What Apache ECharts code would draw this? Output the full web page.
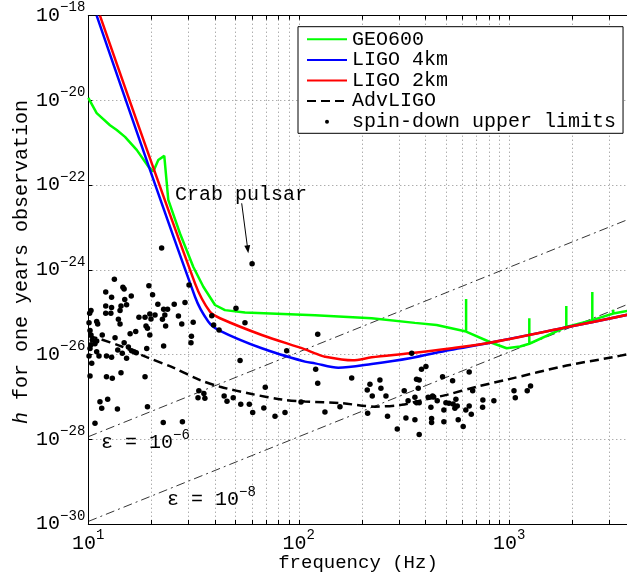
<!DOCTYPE html>
<html>
<head>
<meta charset="utf-8">
<script src="https://cdn.jsdelivr.net/npm/echarts@6/dist/echarts.min.js"></script>
<style>
html, body { margin: 0; padding: 0; background: #fff; }
#chart { width: 627px; height: 576px; }
</style>
</head>
<body>
<div id="chart"></div>
<script>
const FONT = '"Liberation Mono", "DejaVu Sans Mono", monospace';

// Axis ticks (log scale): labelled decades and the 2..9 minor positions
const xMajorTicks = [10, 100, 1000];
const xAllTicks = [10, 20, 30, 40, 50, 60, 70, 80, 90,
                   100, 200, 300, 400, 500, 600, 700, 800, 900,
                   1000, 2000, 3000, 4000];
const yMajorTicks = [1e-30, 1e-28, 1e-26, 1e-24, 1e-22, 1e-20, 1e-18];

// Detector sensitivity curves: [frequency (Hz), h]
const geo600 = [
  [10, 1.15e-20], [10.96, 5.0e-21], [12.68, 2.6e-21], [13.65, 2.0e-21], [14.94, 1.38e-21],
  [16.98, 6.8e-22], [19.28, 2.75e-22], [20.37, 2.1e-22], [21.5, 3.9e-22], [22.96, 4.9e-22],
  [23.99, 4.5e-23], [27.27, 7.2e-24], [31.55, 1.17e-24], [35.2, 4.0e-25], [40.0, 1.48e-25],
  [44.6, 1.12e-25], [55.5, 9.8e-26], [119.4, 8.5e-26], [222, 7.2e-26], [356, 5.6e-26],
  [451.7, 5.0e-26], [623.6, 3.5e-26], [623.6, 2.04e-25], [623.6, 3.5e-26], [824, 1.9e-26],
  [972, 1.41e-26], [1125, 1.55e-26], [1245, 1.8e-26], [1245, 7.2e-26], [1245, 1.8e-26],
  [1866, 4.5e-26], [1866, 1.41e-25], [1866, 4.5e-26], [2480, 6.5e-26], [2480, 3.0e-25],
  [2480, 6.5e-26], [3119, 9.3e-26], [3119, 1.15e-25], [3119, 9.3e-26], [3650, 1.08e-25]
];
const ligo4km = [
  [10.96, 1e-18], [32.13, 2.32e-25], [37.2, 5.97e-26], [41.6, 3.8e-26], [66.7, 1.41e-26],
  [107, 6.8e-27], [119.4, 6.2e-27], [154, 4.9e-27], [222, 6.0e-27], [337, 8.2e-27],
  [522, 1.28e-26], [808.6, 1.9e-26], [1874, 4.4e-26], [3650, 8.7e-26]
];
const ligo2km = [
  [11.36, 1e-18], [32.13, 4.8e-25], [37.85, 1.02e-25], [42.24, 7.2e-26], [66.7, 2.9e-26],
  [107, 1.33e-26], [119.4, 1.07e-26], [133.1, 8.9e-27], [180, 7.3e-27], [222, 8.6e-27],
  [337, 1.07e-26], [522, 1.39e-26], [808.6, 1.9e-26], [1874, 4.4e-26], [3650, 8.7e-26]
];
const advLigo = [
  [10, 2.75e-26], [11.16, 2.4e-26], [14.42, 1.55e-26], [18.94, 8.7e-27], [25.35, 4.9e-27],
  [33.96, 2.5e-27], [42.3, 1.74e-27], [59.8, 1.17e-27], [82.9, 8.7e-28], [107, 7.8e-28],
  [160, 7.1e-28], [230, 5.9e-28], [308, 6.5e-28], [363, 7.8e-28], [504, 1.12e-27],
  [700, 1.74e-27], [988, 2.6e-27], [1874, 5.5e-27], [3119, 8.7e-27], [3650, 1.02e-26]
];

// Spin-down upper limits of known pulsars: [GW frequency (Hz), h]
const crabPulsar = [60, 1.4e-24];
const spinDownLimits = [
  crabPulsar, [22.3, 3.3e-24], [30.1, 4.4e-25],
  [13.3, 6.0e-25], [14.6, 3.9e-25], [14.8, 3.55e-25], [19.4, 4.2e-25], [12.1, 3.0e-25],
  [12.9, 2.25e-25], [16.0, 2.4e-25], [14.9, 2.0e-25], [20.2, 2.6e-25], [10.3, 1.1e-25],
  [10.15, 9.4e-26], [12.1, 1.4e-25], [12.9, 1.3e-25], [14.3, 1.4e-25], [14.15, 1.1e-25],
  [15.2, 1.5e-25], [12.1, 9.4e-26], [12.8, 9.4e-26], [17.4, 7.6e-26], [18.6, 7.6e-26],
  [19.6, 9.1e-26], [20.75, 8.6e-26], [19.85, 6.9e-26], [21.4, 1.55e-25], [22.8, 1.17e-25],
  [23.8, 1.17e-25], [25.6, 1.55e-25], [28.8, 1.7e-25], [23.1, 8.6e-26], [26.8, 8.1e-26],
  [27.8, 5.3e-26], [22.5, 6.8e-26], [23.3, 4.7e-26], [31.5, 5.8e-26], [10.08, 5.65e-26],
  [10.96, 6.0e-26], [11.08, 5.3e-26], [13.9, 6.8e-26], [14.15, 5.3e-26], [18.8, 4.7e-26],
  [19.1, 4.2e-26], [19.6, 2.9e-26], [10.19, 3.7e-26], [10.3, 2.9e-26], [10.45, 2.2e-26],
  [10.96, 2.1e-26], [11.65, 2.9e-26], [13.4, 2.5e-26], [14.8, 1.9e-26], [15.8, 3.1e-26],
  [16.8, 3.5e-26], [10.3, 1.7e-26], [10.76, 1.8e-26], [10.19, 1.4e-26], [10.96, 1.16e-26],
  [11.24, 9.3e-27], [10.08, 9.3e-27], [10.38, 6.2e-27], [12.2, 9.3e-27], [12.9, 8.6e-27],
  [13.8, 1.28e-26], [14.5, 1.07e-26], [15.2, 8.2e-27], [16.05, 1.23e-26], [15.5, 1.5e-26],
  [16.5, 1.16e-26], [16.9, 1.1e-26], [18.95, 1.4e-26], [22.8, 1.6e-26], [30.9, 2.7e-26],
  [30.75, 1.9e-26], [10.19, 3.1e-27], [12.2, 3.0e-27], [13.0, 2.75e-27], [14.3, 3.7e-27],
  [18.6, 3.0e-27], [11.36, 7.7e-28], [12.36, 8.8e-28], [11.58, 5.4e-28], [13.75, 5.2e-28],
  [19.1, 5.9e-28], [10.76, 2.4e-28], [22.7, 2.5e-28], [28.0, 2.6e-28],
  [50.3, 1.24e-25], [55.5, 5.65e-26], [38.6, 8.3e-26], [39.4, 5.0e-26], [41.8, 3.8e-26],
  [87.6, 1.23e-26], [52.6, 7.2e-27], [33.5, 1.4e-27], [33.2, 9.6e-28], [35.4, 1.2e-27],
  [35.8, 9.3e-28], [44.2, 1.05e-27], [45.6, 7.9e-28], [48.8, 9.6e-28], [53.0, 6.7e-28],
  [58.2, 6.7e-28], [60.4, 4.3e-28], [68.2, 5.5e-28], [69.3, 1.7e-27], [77.1, 3.5e-28],
  [86.0, 4.3e-28], [102.5, 7.6e-28],
  [123, 3.0e-26], [120.3, 4.5e-27], [123, 2.1e-27], [178.4, 2.8e-27], [211.5, 1.46e-27],
  [217.8, 2.0e-27], [242.9, 2.5e-27], [245.6, 1.6e-27], [223.4, 1.05e-27], [259.5, 1.05e-27],
  [133.1, 4.4e-28], [156.9, 5.9e-28], [212.4, 4.1e-28], [264, 3.5e-28], [293.7, 1.75e-28],
  [322.8, 3.2e-28], [316.9, 1.4e-27], [330.6, 8.1e-28], [356.2, 2.9e-28], [373.3, 1.3e-28],
  [343.8, 1.07e-26], [382.8, 4.5e-27], [401.8, 5.2e-27], [362.6, 2.6e-27], [373.3, 2.5e-27],
  [369.4, 1.6e-27], [356.2, 9.8e-28], [362.6, 7.3e-28], [373.3, 7.3e-28], [412, 9.8e-28],
  [432, 1.05e-27], [437.5, 1.0e-27], [454.6, 8.1e-28], [424.3, 5.7e-28], [427.5, 3.1e-28],
  [427.5, 2.5e-28], [482, 3.0e-27], [538, 2.4e-27], [489, 4.9e-28], [489, 2.6e-28],
  [500, 7.3e-28], [517, 7.1e-28], [541, 6.8e-28], [557.7, 8.8e-28], [566, 6.1e-28],
  [551.5, 5.4e-28], [572, 2.9e-28], [604, 2.0e-28], [621.6, 4.9e-28], [645, 6.1e-28],
  [660, 3.9e-28], [645, 3.9e-27], [670, 1.4e-27], [749, 8.5e-28], [747, 5.7e-28],
  [845, 8.1e-28], [1053, 1.4e-27], [1068, 9.6e-28], [1217, 1.4e-27], [1262, 1.8e-27]
];

// Constant-ellipticity reference lines (h grows as f^2)
const ellipticity6 = [[10, 1.15e-28], [4000, 1.84e-23]];
const ellipticity8 = [[10, 1.15e-30], [4000, 1.84e-25]];

const chart = echarts.init(document.getElementById('chart'), null, { renderer: 'canvas' });

const powRich = {
  b: { fontFamily: FONT, fontSize: 20, lineHeight: 30, color: '#000' },
  s: { fontFamily: FONT, fontSize: 14, lineHeight: 14, verticalAlign: 'top', color: '#000' }
};
function powLabel(v) {
  const e = Math.round(Math.log10(v));
  return '{b|10}{s|' + (e < 0 ? '\u2212' + (-e) : String(e)) + '}';
}

const dotted = { color: '#8a8a8a', width: 1, type: [1, 3] };
const noMarker = { opacity: 0 };

chart.setOption({
  animation: false,
  backgroundColor: '#fff',
  grid: {
    left: 88.3, top: 15.7, width: 547.7, height: 508.3,
    containLabel: false, outerBoundsMode: 'none'
  },
  legend: {
    orient: 'vertical',
    left: 298, top: 26.7,
    padding: [2.6, 7, 1.6, 8],
    itemWidth: 40, itemHeight: 4, itemGap: 0.6,
    backgroundColor: '#fff',
    borderColor: '#000', borderWidth: 1, borderRadius: 0,
    textStyle: { fontFamily: FONT, fontSize: 20, lineHeight: 20, color: '#000' },
    data: [
      { name: 'GEO600', itemStyle: noMarker },
      { name: 'LIGO 4km', itemStyle: noMarker },
      { name: 'LIGO 2km', itemStyle: noMarker },
      { name: 'AdvLIGO', itemStyle: noMarker },
      { name: 'spin-down upper limits' }
    ]
  },
  xAxis: [{
    type: 'log', logBase: 10, min: 10, max: 4000, position: 'bottom',
    axisLine: { show: true, lineStyle: { color: '#000', width: 1 } },
    axisTick: { show: true, inside: true, length: 4, customValues: xAllTicks, lineStyle: { color: '#000' } },
    axisLabel: { customValues: xMajorTicks, formatter: powLabel, rich: powRich, margin: 4.5 },
    splitLine: { show: true, lineStyle: dotted },
    minorTick: { show: false }, minorSplitLine: { show: false }
  }, {
    type: 'log', logBase: 10, min: 10, max: 4000, position: 'top',
    axisLine: { show: true, lineStyle: { color: '#000', width: 1 } },
    axisTick: { show: true, inside: true, length: 4, customValues: xAllTicks, lineStyle: { color: '#000' } },
    axisLabel: { show: false },
    splitLine: { show: false }
  }],
  yAxis: {
    type: 'log', logBase: 10, min: 1e-30, max: 1e-18,
    axisLine: { show: true, lineStyle: { color: '#000', width: 1 } },
    axisTick: { show: true, inside: true, length: 4, customValues: yMajorTicks, lineStyle: { color: '#000' } },
    axisLabel: { customValues: yMajorTicks, formatter: powLabel, rich: powRich, margin: 3 },
    splitLine: { show: true, lineStyle: dotted },
    minorTick: { show: false }, minorSplitLine: { show: false }
  },
  series: [
    {
      name: 'epsilon 1e-6', type: 'line', data: ellipticity6, symbol: 'none', silent: true,
      lineStyle: { color: '#000', width: 0.8, type: [9, 4, 2, 4] }, z: 2
    },
    {
      name: 'epsilon 1e-8', type: 'line', data: ellipticity8, symbol: 'none', silent: true,
      lineStyle: { color: '#000', width: 0.8, type: [9, 4, 2, 4] }, z: 2
    },
    {
      name: 'GEO600', type: 'line', data: geo600, symbol: 'none',
      lineStyle: { color: '#00ff00', width: 2.5 }, itemStyle: { color: '#00ff00' }, z: 3
    },
    {
      name: 'LIGO 4km', type: 'line', data: ligo4km, symbol: 'none', smooth: 0.3,
      lineStyle: { color: '#0000ff', width: 2.5 }, itemStyle: { color: '#0000ff' }, z: 3
    },
    {
      name: 'LIGO 2km', type: 'line', data: ligo2km, symbol: 'none', smooth: 0.3,
      lineStyle: { color: '#ff0000', width: 2.5 }, itemStyle: { color: '#ff0000' }, z: 3
    },
    {
      name: 'AdvLIGO', type: 'line', data: advLigo, symbol: 'none', smooth: 0.3,
      lineStyle: { color: '#000', width: 2.5, type: [9, 5] }, itemStyle: { color: '#000' }, z: 4
    },
    {
      name: 'spin-down upper limits', type: 'scatter', data: spinDownLimits,
      symbol: 'circle', symbolSize: 5.5, itemStyle: { color: '#000', opacity: 1 }, z: 5
    }
  ],
  graphic: [
    {
      type: 'text', x: 22, y: 262, rotation: Math.PI / 2, z: 10,
      style: {
        text: '{i|h}{n| for one years observation}',
        rich: {
          i: { fontFamily: FONT, fontSize: 20, fontStyle: 'italic', fill: '#000' },
          n: { fontFamily: FONT, fontSize: 20, fill: '#000' }
        },
        align: 'center', verticalAlign: 'middle'
      }
    },
    {
      type: 'text', x: 358, y: 563, z: 10,
      style: { text: 'frequency (Hz)', fontFamily: FONT, fontSize: 19, fill: '#000', align: 'center', verticalAlign: 'middle' }
    },
    {
      type: 'text', x: 175, y: 195, z: 10,
      style: { text: 'Crab pulsar', fontFamily: FONT, fontSize: 20, fill: '#000', align: 'left', verticalAlign: 'middle' }
    },
    {
      type: 'line', z: 10,
      shape: { x1: 241.7, y1: 203.3, x2: 247.3, y2: 246 },
      style: { stroke: '#000', lineWidth: 1 }
    },
    {
      type: 'polygon', z: 10,
      shape: { points: [[248.3, 253.3], [250.2, 245.0], [244.3, 245.8]] },
      style: { fill: '#000' }
    },
    {
      type: 'text', x: 101, y: 443, z: 10,
      style: {
        text: '{b|\u03b5 = 10}{s|\u22126}', rich: powRich,
        align: 'left', verticalAlign: 'middle'
      }
    },
    {
      type: 'text', x: 167, y: 500, z: 10,
      style: {
        text: '{b|\u03b5 = 10}{s|\u22128}', rich: powRich,
        align: 'left', verticalAlign: 'middle'
      }
    }
  ]
});
</script>
</body>
</html>
